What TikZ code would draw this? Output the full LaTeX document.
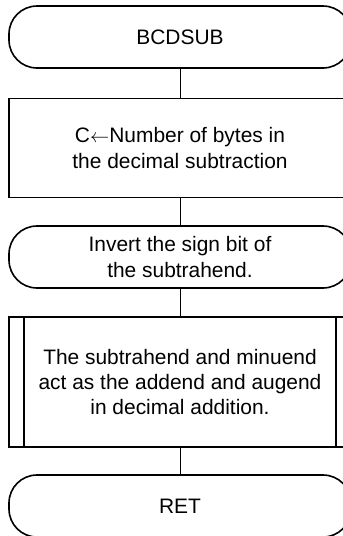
\documentclass[tikz,border=0pt]{standalone}
\usepackage{fontspec}
\setmainfont{Liberation Sans}
\begin{document}
\begin{tikzpicture}[x=0.75pt,y=-0.75pt,
  txt/.style={align=center, inner sep=0pt, font=\fontsize{15.7pt}{19pt}\selectfont},
  term/.style={txt, draw, line width=1.2pt, rectangle, rounded corners=21pt,
    minimum width=256.5pt, minimum height=46.5pt},
  procbox/.style={txt, draw, line width=1.2pt, rectangle,
    minimum width=256.5pt, minimum height=74pt},
  predef/.style={txt, draw, line width=1.2pt, rectangle,
    minimum width=256.5pt, minimum height=97.5pt},
  conn/.style={line width=0.6pt}]
\useasboundingbox (0,0) rectangle (343,536);
\clip (0,0) rectangle (343,536);
\node[term] (start) at (180,37) {BCDSUB};
\node[procbox] (setc) at (180,148) {C{$\leftarrow$}Number of bytes in\\the decimal subtraction};
\node[term] (inv) at (180,257) {Invert the sign bit of\\the subtrahend.};
\node[predef] (add) at (180,382) {The subtrahend and minuend\\act as the addend and augend\\in decimal addition.};
\node[term] (ret) at (180,506) {RET};
\draw[line width=1.2pt] ([xshift=12pt]add.north west) -- ([xshift=12pt]add.south west);
\draw[line width=1.2pt] ([xshift=-12pt]add.north east) -- ([xshift=-12pt]add.south east);
\draw[conn] (start) -- (setc);
\draw[conn] (setc) -- (inv);
\draw[conn] (inv) -- (add);
\draw[conn] (add) -- (ret);
\end{tikzpicture}
\end{document}
